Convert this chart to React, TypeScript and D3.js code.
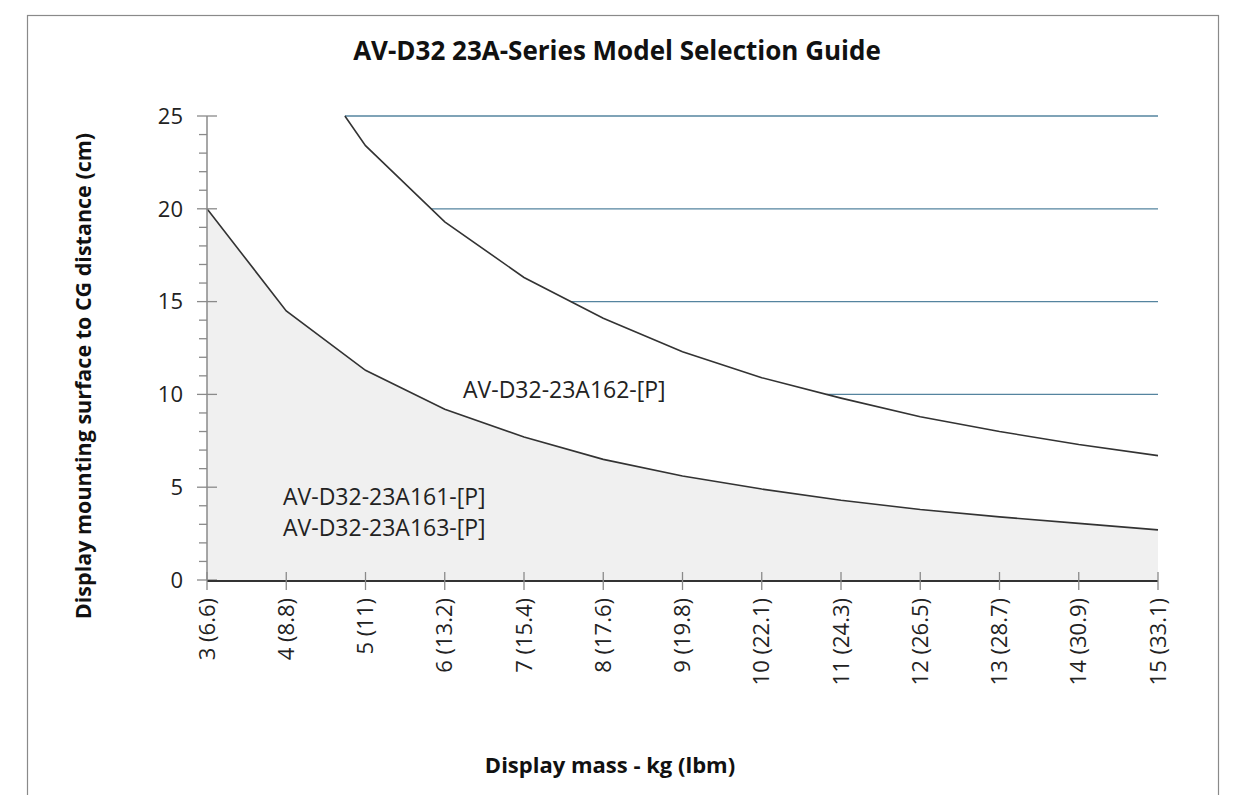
import React, { useEffect, useRef } from "react";
import * as d3 from "d3";

// chart data
const massKg = [3, 4, 5, 6, 7, 8, 9, 10, 11, 12, 13, 14, 15];
const massLbm = ["6.6", "8.8", "11", "13.2", "15.4", "17.6", "19.8", "22.1", "24.3", "26.5", "28.7", "30.9", "33.1"];
const lowerCurve = [20, 14.5, 11.3, 9.2, 7.7, 6.5, 5.6, 4.9, 4.3, 3.8, 3.4, 3.05, 2.7];
const upperMass = [4.74, 5, 6, 7, 8, 9, 10, 11, 12, 13, 14, 15];
const upperCurve = [25, 23.4, 19.3, 16.3, 14.1, 12.3, 10.9, 9.8, 8.8, 8.0, 7.3, 6.7];
const yTicks = [0, 5, 10, 15, 20, 25];
const gridLevels = [10, 15, 20, 25];
const title = "AV-D32 23A-Series Model Selection Guide";
const xTitle = "Display mass - kg (lbm)";
const yTitle = "Display mounting surface to CG distance (cm)";
const upperLabel = "AV-D32-23A162-[P]";
const lowerLabels = ["AV-D32-23A161-[P]", "AV-D32-23A163-[P]"];

const FONT = "'Open Sans', sans-serif";

const App = () => {
  const ref = useRef<SVGSVGElement>(null);

  useEffect(() => {
    const svg = d3.select(ref.current);
    svg.selectAll("*").remove();

    const x = d3.scaleLinear().domain([3, 15]).range([207, 1158]);
    const y = d3.scaleLinear().domain([0, 25]).range([580, 116]);

    // frame
    svg
      .append("rect")
      .attr("x", 27.5)
      .attr("y", 15.5)
      .attr("width", 1191)
      .attr("height", 800)
      .attr("fill", "white")
      .attr("stroke", "#8a8a8a")
      .attr("stroke-width", 1.2);

    // filled lower region
    const lower = massKg.map((m, i) => ({ m, v: lowerCurve[i] }));
    svg
      .append("path")
      .datum(lower)
      .attr("fill", "#f0f0f0")
      .attr(
        "d",
        d3
          .area<any>()
          .x((d) => x(d.m))
          .y0(y(0))
          .y1((d) => y(d.v))
      );

    // gridlines above the upper curve, starting where the curve meets each level
    const upper = upperMass.map((m, i) => ({ m, v: upperCurve[i] }));
    const crossAt = (level: number) => {
      for (let i = 0; i < upper.length - 1; i++) {
        const a = upper[i],
          b = upper[i + 1];
        if (a.v >= level && b.v <= level) {
          const t = a.v === b.v ? 0 : (a.v - level) / (a.v - b.v);
          return a.m + t * (b.m - a.m);
        }
      }
      return upper[0].m;
    };
    gridLevels.forEach((lv) => {
      svg
        .append("line")
        .attr("x1", x(crossAt(lv)))
        .attr("x2", x(15))
        .attr("y1", y(lv))
        .attr("y2", y(lv))
        .attr("stroke", "#55849f")
        .attr("stroke-width", 1.3);
    });

    const line = d3
      .line<any>()
      .x((d) => x(d.m))
      .y((d) => y(d.v));

    svg
      .append("path")
      .datum(lower)
      .attr("fill", "none")
      .attr("stroke", "#333")
      .attr("stroke-width", 1.6)
      .attr("d", line);
    svg
      .append("path")
      .datum(upper)
      .attr("fill", "none")
      .attr("stroke", "#333")
      .attr("stroke-width", 1.6)
      .attr("d", line);

    // y axis
    svg
      .append("line")
      .attr("x1", 207)
      .attr("x2", 207)
      .attr("y1", y(25))
      .attr("y2", y(0))
      .attr("stroke", "#8a8a8a")
      .attr("stroke-width", 1.5);
    d3.range(0, 26).forEach((v) => {
      const major = v % 5 === 0;
      svg
        .append("line")
        .attr("x1", major ? 197 : 199)
        .attr("x2", major ? 217 : 207)
        .attr("y1", y(v))
        .attr("y2", y(v))
        .attr("stroke", "#8a8a8a")
        .attr("stroke-width", 1.3);
    });
    svg
      .selectAll("text.ytick")
      .data(yTicks)
      .enter()
      .append("text")
      .attr("x", 183)
      .attr("y", (d) => y(d))
      .attr("dy", "0.35em")
      .attr("text-anchor", "end")
      .attr("font-family", FONT)
      .attr("font-size", 22)
      .attr("fill", "#222")
      .text((d) => d);

    // x axis
    svg
      .append("line")
      .attr("x1", x(3))
      .attr("x2", x(15))
      .attr("y1", y(0) + 1)
      .attr("y2", y(0) + 1)
      .attr("stroke", "#333")
      .attr("stroke-width", 2);
    massKg.forEach((m) => {
      svg
        .append("line")
        .attr("x1", x(m))
        .attr("x2", x(m))
        .attr("y1", y(0) - 8)
        .attr("y2", y(0) + 10)
        .attr("stroke", "#8a8a8a")
        .attr("stroke-width", 1.3);
    });
    svg
      .selectAll("text.xtick")
      .data(massKg)
      .enter()
      .append("text")
      .attr("transform", (d) => `translate(${x(d)},598)rotate(-90)`)
      .attr("dy", "0.35em")
      .attr("text-anchor", "end")
      .attr("font-family", FONT)
      .attr("font-size", 22)
      .attr("fill", "#222")
      .text((d, i) => `${d} (${massLbm[i]})`);

    // titles
    svg
      .append("text")
      .attr("x", 617)
      .attr("y", 60)
      .attr("text-anchor", "middle")
      .attr("font-family", FONT)
      .attr("font-weight", "bold")
      .attr("font-size", 26)
      .attr("fill", "#111")
      .text(title);
    svg
      .append("text")
      .attr("x", 610)
      .attr("y", 773)
      .attr("text-anchor", "middle")
      .attr("font-family", FONT)
      .attr("font-weight", "bold")
      .attr("font-size", 22)
      .attr("fill", "#111")
      .text(xTitle);
    svg
      .append("text")
      .attr("transform", "translate(91,376)rotate(-90)")
      .attr("text-anchor", "middle")
      .attr("font-family", FONT)
      .attr("font-weight", "bold")
      .attr("font-size", 21.5)
      .attr("fill", "#111")
      .text(yTitle);

    // region labels
    svg
      .append("text")
      .attr("x", 463)
      .attr("y", 398)
      .attr("font-family", FONT)
      .attr("font-size", 23)
      .attr("fill", "#222")
      .text(upperLabel);
    lowerLabels.forEach((t, i) => {
      svg
        .append("text")
        .attr("x", 283)
        .attr("y", 505 + i * 31)
        .attr("font-family", FONT)
        .attr("font-size", 23)
        .attr("fill", "#222")
        .text(t);
    });
  }, []);

  return (
    <svg
      ref={ref}
      width={1237}
      height={795}
      style={{ position: "absolute", left: 0, top: 0, background: "white" }}
    />
  );
};

export default App;
